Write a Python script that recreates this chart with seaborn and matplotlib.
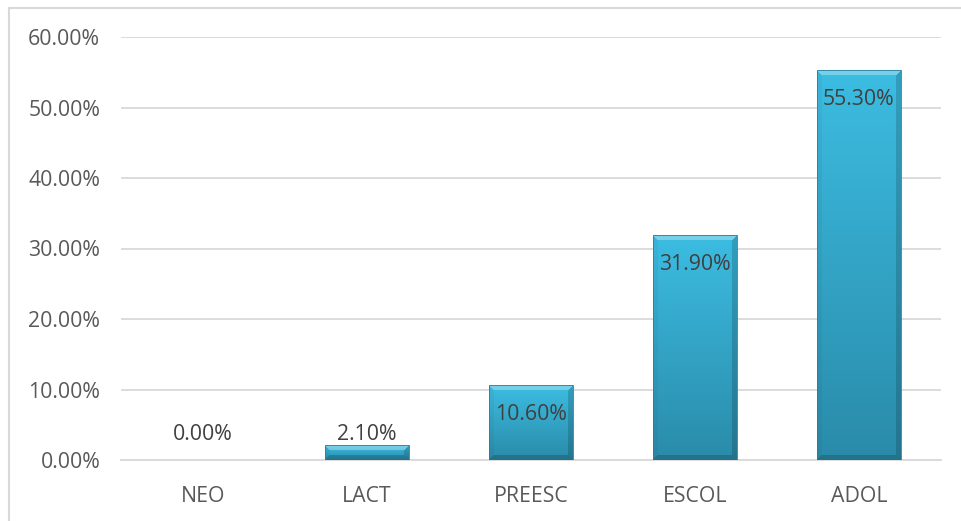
import numpy as np
import pandas as pd
import matplotlib
matplotlib.use("Agg")
import matplotlib.pyplot as plt
import matplotlib.colors as mcolors
from matplotlib.patches import Rectangle
import seaborn as sns

# Age groups and share of cases
categories = ["NEO", "LACT", "PREESC", "ESCOL", "ADOL"]
shares = [0.0, 2.1, 10.6, 31.9, 55.3]
y_ticks = [0, 10, 20, 30, 40, 50, 60]

df = pd.DataFrame({"grupo": categories, "pct": shares})

sns.set_theme(style="white")
plt.rcParams["font.family"] = ["Open Sans", "DejaVu Sans"]
FS = 15.3

W, H, DPI = 961, 521, 100
fig = plt.figure(figsize=(W / DPI, H / DPI), dpi=DPI)
ax = fig.add_axes([121 / W, 1 - 460 / H, (941 - 121) / W, (460 - 37) / H])

sns.barplot(data=df, x="grupo", y="pct", color="#33a9cc", width=0.51,
            saturation=1, ax=ax, zorder=2, edgecolor="none")

ax.set_ylim(0, 60)
ax.set_xlim(-0.5, len(categories) - 0.5)
ax.set_yticks(y_ticks)
ax.set_yticklabels([f"{v:.2f}%" for v in y_ticks])
ax.yaxis.grid(True, color="#d9d9d9", linewidth=1.3, zorder=0)
ax.set_axisbelow(True)
for s in ["top", "right", "left"]:
    ax.spines[s].set_visible(False)
ax.spines["bottom"].set_color("#d9d9d9")
ax.spines["bottom"].set_linewidth(1.3)
ax.tick_params(axis="both", length=0, labelsize=FS, colors="#595959")
ax.tick_params(axis="y", pad=15)
ax.tick_params(axis="x", pad=19)
ax.set_xlabel("")
ax.set_ylabel("")

# Bevelled gradient fill for every bar
top_c = np.array(mcolors.to_rgb("#3cbde2"))
bot_c = np.array(mcolors.to_rgb("#2a8ba9"))
bevel = 5.0
fig.canvas.draw()
for patch in ax.patches:
    x0, y0 = patch.get_x(), patch.get_y()
    w, h = patch.get_width(), patch.get_height()
    if h <= 0:
        continue
    (px0, py0), (px1, py1) = ax.transData.transform([(x0, y0), (x0 + w, y0 + h)])
    nw = max(int(round(px1 - px0)), 2)
    nh = max(int(round(py1 - py0)), 2)
    yy, xx = np.mgrid[0:nh, 0:nw] + 0.5
    t = yy / nh
    base = top_c[None, None, :] * (1 - t[..., None]) + bot_c[None, None, :] * t[..., None]
    d_top, d_bot = yy, nh - yy
    d_left, d_right = xx, nw - xx
    stack = np.stack([d_top, d_bot, d_left, d_right])
    face = np.argmin(stack, axis=0)
    dmin = np.min(stack, axis=0)
    shade = np.zeros((nh, nw))
    factors = [0.3, -0.18, -0.04, -0.16]
    for k, f in enumerate(factors):
        shade[(face == k) & (dmin < bevel)] = f
    img = base.copy()
    light = shade > 0
    img[light] = img[light] + (1 - img[light]) * shade[light][:, None]
    dark = shade < 0
    img[dark] = img[dark] * (1 + shade[dark][:, None])
    im = ax.imshow(np.clip(img, 0, 1), extent=(x0, x0 + w, y0, y0 + h),
                   origin="upper", aspect="auto", interpolation="bilinear", zorder=3)
    im.set_clip_path(patch)
    ax.add_patch(Rectangle((x0, y0), w, h, fill=False, edgecolor="#2a7f99",
                           linewidth=0.6, zorder=4))
    patch.set_alpha(0)

ax.set_xlim(-0.5, len(categories) - 0.5)
ax.set_ylim(0, 60)

# Value labels: inside the top of tall bars, above the short ones
for i, v in enumerate(shares):
    if v >= 5:
        ax.annotate(f"{v:.2f}%", (i, v), xytext=(0, -21), textcoords="offset points",
                    ha="center", va="center", fontsize=FS, color="#404040", zorder=5)
    else:
        ax.annotate(f"{v:.2f}%", (i, max(v, 2.1)), xytext=(0, 8), textcoords="offset points",
                    ha="center", va="center", fontsize=FS, color="#404040", zorder=5)

# Chart frame (left and top edges fall inside the canvas)
fig.patches.append(Rectangle((9 / W, -0.1), 1.1, 1.1 - 8 / H, transform=fig.transFigure,
                             fill=False, edgecolor="#d9d9d9", linewidth=1.5))

fig.savefig("out.png", dpi=DPI)
